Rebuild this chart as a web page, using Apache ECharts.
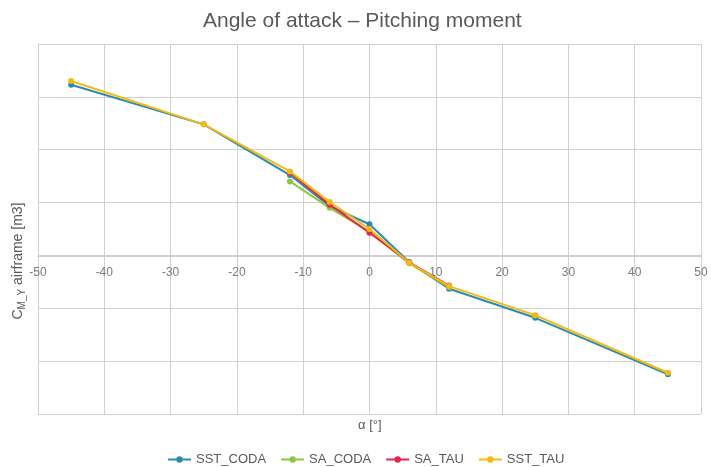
<!DOCTYPE html>
<html><head><meta charset="utf-8">
<script src="https://cdn.jsdelivr.net/npm/echarts@6/dist/echarts.min.js"></script>
<style>html,body{margin:0;padding:0;background:#fff}#c{width:711px;height:467px}</style>
</head><body><div id="c"></div>
<script>
const seriesNames = ['SST_CODA', 'SA_CODA', 'SA_TAU', 'SST_TAU'];
const alphaFull = [-45, -25, -12, -6, 0, 6, 12, 25, 45];
const alphaSA = [-12, -6, 0, 6, 12];
const sstCoda = [0.323, 0.248, 0.152, 0.093, 0.059, -0.013, -0.063, -0.118, -0.225];
const saCoda = [0.140, 0.090, 0.045, -0.015, -0.060];
const saTau = [0.157, 0.096, 0.043, -0.013, -0.057];
const sstTau = [0.330, 0.248, 0.159, 0.101, 0.050, -0.014, -0.058, -0.113, -0.222];
const xTicks = [-50, -40, -30, -20, -10, 0, 10, 20, 30, 40, 50];
const colors = ['#2a8bb0', '#8dc63f', '#e2254c', '#f5b914'];
const FONT = '"Liberation Sans", Arial, sans-serif';

const zip = (xs, ys) => xs.map((x, i) => [x, ys[i]]);
const dataSets = [zip(alphaFull, sstCoda), zip(alphaSA, saCoda), zip(alphaSA, saTau), zip(alphaFull, sstTau)];

const chart = echarts.init(document.getElementById('c'), null, {renderer: 'canvas'});
chart.setOption({
  animation: false,
  backgroundColor: '#fff',
  color: colors,
  textStyle: {fontFamily: FONT},
  title: {
    text: 'Angle of attack – Pitching moment',
    left: 198, top: 6,
    textStyle: {fontFamily: FONT, fontSize: 21, fontWeight: 'normal', color: '#595959'}
  },
  grid: {left: 38, right: 10, top: 44, bottom: 53, containLabel: false, outerBoundsMode: 'none'},
  legend: {
    data: seriesNames,
    top: 448, left: 162,
    itemWidth: 23, itemHeight: 8, itemGap: 14,
    textStyle: {fontFamily: FONT, fontSize: 13, color: '#595959'}
  },
  graphic: [
    {type: 'text', x: 358, y: 419, style: {text: 'α [°]', font: '13px ' + FONT, fill: '#595959'}},
    {type: 'text', x: 18, y: 261, rotation: Math.PI / 2,
     style: {
       text: '{a|C}{s|M_Y}{a| airframe [m3]}', fill: '#595959', align: 'center', verticalAlign: 'middle',
       rich: {
         a: {fontSize: 14, fill: '#595959', fontFamily: FONT, lineHeight: 20},
         s: {fontSize: 10, fill: '#595959', fontFamily: FONT, lineHeight: 20, padding: [8, 0, 0, 0]}
       }
     }}
  ],
  xAxis: {
    type: 'value', min: xTicks[0], max: xTicks[xTicks.length - 1], interval: 10,
    offset: -158,
    axisLine: {show: true, onZero: false, lineStyle: {color: '#d0d0d0', width: 1}},
    axisTick: {show: false},
    axisLabel: {color: '#7a7a7a', fontSize: 12, margin: 11, fontFamily: FONT},
    splitLine: {show: true, lineStyle: {color: '#d0d0d0', width: 1}}
  },
  yAxis: {
    type: 'value', min: -0.3, max: 0.4, interval: 0.1,
    axisLine: {show: true, onZero: false, lineStyle: {color: '#d0d0d0'}},
    axisTick: {show: false},
    axisLabel: {show: false},
    splitLine: {show: true, lineStyle: {color: '#d0d0d0', width: 1}}
  },
  series: seriesNames.map((n, i) => ({
    name: n, type: 'line', data: dataSets[i],
    symbol: 'circle', symbolSize: 6,
    lineStyle: {width: 2},
    z: 2 + i
  }))
});
</script></body></html>
